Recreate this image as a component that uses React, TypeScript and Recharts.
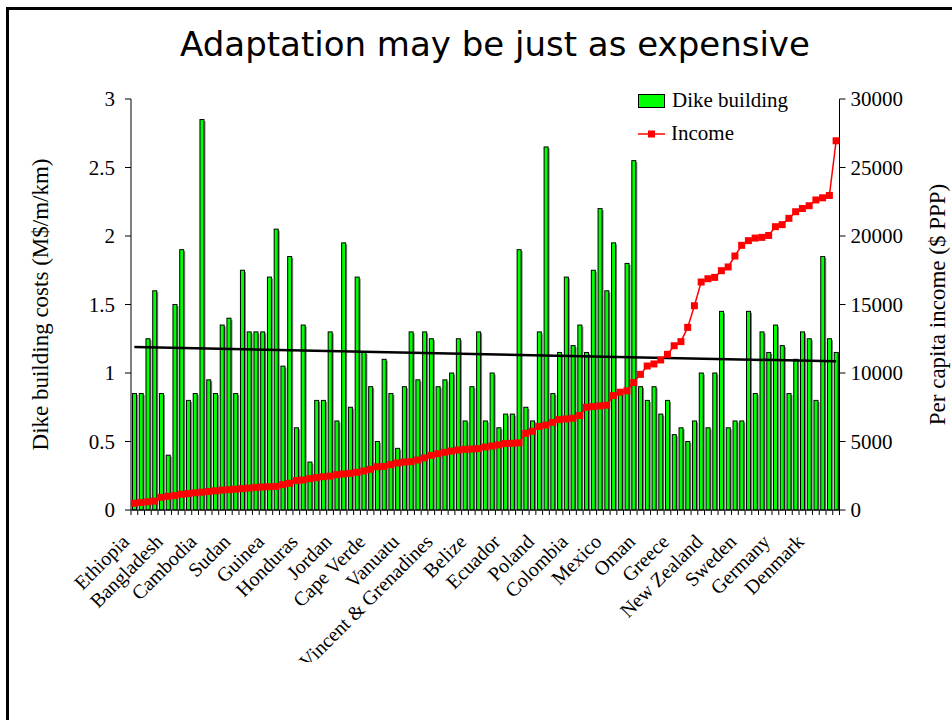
import React from 'react';
import { ComposedChart, Bar, Line, XAxis, YAxis, ReferenceLine } from 'recharts';

// tick labels, one every 5 countries
const countryLabels = [
  'Ethiopia', 'Bangladesh', 'Cambodia', 'Sudan', 'Guinea', 'Honduras', 'Jordan',
  'Cape Verde', 'Vanuatu', 'St Vincent & Grenadines', 'Belize', 'Ecuador', 'Poland',
  'Colombia', 'Mexico', 'Oman', 'Greece', 'New Zealand', 'Sweden', 'Germany', 'Denmark',
];

// M$/m/km
const dikeCost = [
  0.85, 0.85, 1.25, 1.6, 0.85, 0.4, 1.5, 1.9, 0.8, 0.85, 2.85, 0.95, 0.85, 1.35, 1.4, 0.85, 1.75, 1.3, 1.3, 1.3, 1.7, 2.05, 1.05, 1.85, 0.6,
  1.35, 0.35, 0.8, 0.8, 1.3, 0.65, 1.95, 0.75, 1.7, 1.15, 0.9, 0.5, 1.1, 0.85, 0.45, 0.9, 1.3, 0.95, 1.3, 1.25, 0.9, 0.95, 1.0, 1.25, 0.65, 0.9,
  1.3, 0.65, 1.0, 0.6, 0.7, 0.7, 1.9, 0.75, 0.65, 1.3, 2.65, 0.85, 1.15, 1.7, 1.2, 1.35, 1.15, 1.75, 2.2, 1.6, 1.95, 0.85, 1.8, 2.55, 0.9,
  0.8, 0.9, 0.7, 0.8, 0.55, 0.6, 0.5, 0.65, 1.0, 0.6, 1.0, 1.45, 0.6, 0.65, 0.65, 1.45, 0.85, 1.3, 1.15, 1.35, 1.2, 0.85, 1.1, 1.3, 1.25, 0.8, 1.85, 1.25, 1.15,
];

// $ PPP per capita
const income = [
  500, 550, 600, 650, 925, 1000, 1050, 1150, 1200, 1250, 1300, 1350, 1400, 1450, 1480, 1520, 1560, 1600, 1650, 1680, 1700, 1720, 1850, 1950, 2150,
  2190, 2290, 2360, 2430, 2470, 2580, 2630, 2680, 2750, 2850, 2970, 3160, 3180, 3310, 3430, 3500, 3530, 3650, 3800, 3990, 4110, 4210, 4300, 4380, 4430, 4450,
  4480, 4600, 4670, 4750, 4850, 4870, 4900, 5600, 5750, 6100, 6200, 6400, 6600, 6650, 6700, 6900, 7500, 7550, 7600, 7650, 8350, 8600, 8700, 9300, 9900,
  10510, 10660, 10950, 11360, 11990, 12290, 13330, 14910, 16640, 16880, 16980, 17470, 17740, 18540, 19320, 19660, 19850, 19900, 20040, 20680,
  20830, 21290, 21770, 22010, 22210, 22630, 22790, 22960, 26950,
];

// linear trend of dike costs, read at first and last country
const trendEnds = [1.19, 1.085];

const costTicks = [0, 0.5, 1, 1.5, 2, 2.5, 3];
const incomeTicks = [0, 5000, 10000, 15000, 20000, 25000, 30000];

const data = dikeCost.map((cost, i) => ({
  idx: i,
  label: i % 5 === 0 ? countryLabels[i / 5] : '',
  cost,
  income: income[i],
}));

const serif = '"Liberation Serif", "Times New Roman", serif';
const PLOT_LEFT = 131;
const PLOT_RIGHT = 839.5;
const PITCH = (PLOT_RIGHT - PLOT_LEFT) / data.length;

const DikeBar = (props: any) => {
  const { x, y, width, height } = props;
  if (!height) return null;
  return (
    <g>
      <rect x={x + 1.5} y={y + 1.5} width={width} height={Math.max(height - 1.5, 0)} fill="#808080" />
      <rect x={x} y={y} width={width} height={height} fill="#00ff00" stroke="#000" strokeWidth={1} />
    </g>
  );
};

const SquareDot = (props: any) => {
  const { cx, cy, index } = props;
  return <rect key={`d${index}`} x={cx - 3.5} y={cy - 3.5} width={7} height={7} fill="#ff0000" />;
};

const CountryTick = (props: any) => {
  const { x, y, payload, index } = props;
  const row = data[payload.value];
  const tx = x - 4;
  const ty = y + 28;
  return (
    <g>
      <line x1={x - PITCH / 2} x2={x - PITCH / 2} y1={y - 5} y2={y} stroke="#000" />
      {index === data.length - 1 && (
        <line x1={x + PITCH / 2} x2={x + PITCH / 2} y1={y - 5} y2={y} stroke="#000" />
      )}
      {row && row.label && (
        <text
          x={tx}
          y={ty}
          transform={`rotate(-45, ${tx}, ${ty})`}
          textAnchor="end"
          fontSize={20}
          fontFamily={serif}
          fill="#000"
        >
          {row.label}
        </text>
      )}
    </g>
  );
};

const LegendBox = () => (
  <div style={{ fontFamily: serif, fontSize: 21, color: '#000', lineHeight: '23px' }}>
    <div style={{ display: 'flex', alignItems: 'center', height: 23 }}>
      <span style={{ display: 'inline-block', width: 25, height: 12, background: '#00ff00', border: '1px solid #000', marginRight: 7 }} />
      Dike building
    </div>
    <div style={{ display: 'flex', alignItems: 'center', height: 23, marginTop: 10 }}>
      <svg width={27} height={10} style={{ marginRight: 6 }}>
        <line x1={0} x2={27} y1={5} y2={5} stroke="#ff0000" strokeWidth={1.5} />
        <rect x={10} y={1.5} width={7} height={7} fill="#ff0000" />
      </svg>
      Income
    </div>
  </div>
);

export default function App() {
  return (
    <div style={{ position: 'absolute', left: 0, top: 0, width: 952, height: 720, background: '#fff', overflow: 'hidden' }}>
      <div
        style={{
          position: 'absolute', left: 6, top: 7, width: 946, height: 713, boxSizing: 'border-box',
          borderLeft: '3px solid #000', borderTop: '3px solid #000',
        }}
      />
      <div
        style={{
          position: 'absolute', left: 19, top: 24, width: 952, textAlign: 'center',
          fontFamily: '"Comic Sans MS", "DejaVu Sans", sans-serif', fontSize: 34, color: '#000', lineHeight: '40px',
        }}
      >
        Adaptation may be just as expensive
      </div>
      <div style={{ position: 'absolute', left: 0, top: 0, width: 952, height: 662, overflow: 'hidden' }}>
        <ComposedChart
          width={952}
          height={662}
          data={data}
          margin={{ top: 99, right: 0, bottom: 0, left: 0 }}
          barCategoryGap="22%"
        >
          <XAxis
            dataKey="idx"
            type="category"
            interval={0}
            height={152}
            tickSize={5}
            tickMargin={0}
            tickLine={false}
            axisLine={{ stroke: '#000' }}
            tick={<CountryTick />}
          />
          <YAxis
            yAxisId="left"
            orientation="left"
            width={PLOT_LEFT}
            domain={[0, 3]}
            ticks={costTicks}
            interval={0}
            tickSize={6}
            tickMargin={10}
            axisLine={{ stroke: '#000' }}
            tickLine={{ stroke: '#000' }}
            tick={{ fill: '#000', fontSize: 21, fontFamily: serif }}
            label={{
              value: 'Dike building costs (M$/m/km)', angle: -90, position: 'center', dx: -26,
              style: { fill: '#000', fontSize: 23, fontFamily: serif, textAnchor: 'middle' },
            }}
          />
          <YAxis
            yAxisId="right"
            orientation="right"
            width={952 - PLOT_RIGHT}
            domain={[0, 30000]}
            ticks={incomeTicks}
            interval={0}
            tickSize={6}
            tickMargin={5}
            axisLine={{ stroke: '#000' }}
            tickLine={{ stroke: '#000' }}
            tick={{ fill: '#000', fontSize: 21, fontFamily: serif }}
            label={{
              value: 'Per capita income ($ PPP)', angle: -90, position: 'center', dx: 41,
              style: { fill: '#000', fontSize: 23, fontFamily: serif, textAnchor: 'middle' },
            }}
          />
          <Bar
            yAxisId="left"
            dataKey="cost"
            name="Dike building"
            shape={<DikeBar />}
            isAnimationActive={false}
          />
          <ReferenceLine
            yAxisId="left"
            segment={[{ x: 0, y: trendEnds[0] }, { x: data.length - 1, y: trendEnds[1] }]}
            stroke="#000"
            strokeWidth={2.5}
          />
          <Line
            yAxisId="right"
            dataKey="income"
            name="Income"
            type="linear"
            stroke="#ff0000"
            strokeWidth={1.5}
            dot={SquareDot}
            activeDot={false}
            isAnimationActive={false}
          />
        </ComposedChart>
      </div>
      <div style={{ position: 'absolute', left: 638, top: 89, width: 210 }}>
        <LegendBox />
      </div>
    </div>
  );
}
